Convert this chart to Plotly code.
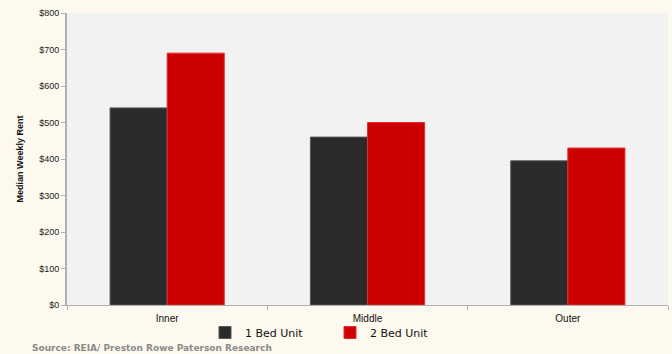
import plotly.graph_objects as go

regions = ["Inner", "Middle", "Outer"]
one_bed = [540, 460, 395]
two_bed = [690, 500, 430]
y_ticks = [0, 100, 200, 300, 400, 500, 600, 700, 800]
y_tick_text = ["$" + str(v) for v in y_ticks]

W, H = 672, 354
L, R, T, B = 67, 4, 13, 49
plot_w = W - L - R
plot_h = H - T - B

fig = go.Figure()
fig.add_trace(go.Bar(
    x=regions, y=one_bed, name="1 Bed Unit",
    marker=dict(color="#2b2b2b", line=dict(color="#555555", width=1)),
))
fig.add_trace(go.Bar(
    x=regions, y=two_bed, name="2 Bed Unit",
    marker=dict(color="#cc0000", line=dict(color="#e03030", width=1)),
))

fig.update_layout(
    width=W, height=H,
    margin=dict(l=L, r=R, t=T, b=B, autoexpand=False),
    paper_bgcolor="#fdf9ee",
    plot_bgcolor="#f2f2f2",
    barmode="group",
    bargap=0.43,
    bargroupgap=0,
    font=dict(family="Liberation Sans, Arial, sans-serif", color="#222222"),
    showlegend=True,
    legend=dict(
        orientation="h", x=(205 - L) / plot_w, y=-(318 - (T + plot_h)) / plot_h,
        xanchor="left", yanchor="top",
        bgcolor="rgba(0,0,0,0)",
        font=dict(size=11, family="DejaVu Sans, sans-serif", color="#111111"),
        entrywidth=80, entrywidthmode="pixels",
        itemwidth=30, traceorder="normal",
    ),
    xaxis=dict(
        showgrid=False,
        showline=True, linecolor="#b0b0b0", linewidth=1,
        ticks="outside", ticklen=4, tickcolor="#b0b0b0",
        tickson="boundaries",
        ticklabelstandoff=4,
        tickfont=dict(size=10, color="#111111"),
        fixedrange=True,
    ),
    yaxis=dict(
        range=[0, 800],
        tickvals=y_ticks, ticktext=y_tick_text,
        showgrid=False, zeroline=False,
        showline=True, linecolor="#b0b0b0", linewidth=2,
        ticks="outside", ticklen=4, tickcolor="#b0b0b0",
        tickfont=dict(size=9, color="#222222"),
        title=dict(text="<b>Median Weekly Rent</b>", font=dict(size=9, color="#111111"), standoff=14),
        fixedrange=True,
    ),
)

fig.add_annotation(
    text="<b>Source: REIA/ Preston Rowe Paterson Research</b>",
    xref="paper", yref="paper",
    x=-(L - 30) / plot_w, y=-(348 - (T + plot_h)) / plot_h,
    xanchor="left", yanchor="middle", showarrow=False,
    font=dict(size=9, family="DejaVu Sans, sans-serif", color="#8a8a8a"),
)

fig.write_html("out.html")
